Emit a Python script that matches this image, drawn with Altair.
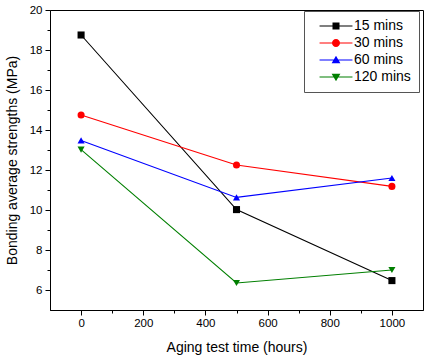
import altair as alt
import pandas as pd

hours = [0, 500, 1000]
series_names = ["15 mins", "30 mins", "60 mins", "120 mins"]
s15 = [18.75, 10.02, 6.47]
s30 = [14.75, 12.25, 11.18]
s60 = [13.48, 10.63, 11.60]
s120 = [13.02, 6.35, 7.00]
colors = ["#000000", "#ff0000", "#0000ff", "#007f00"]
shapes = ["square", "circle", "triangle-up", "triangle-down"]

# legend symbols: a short line with the marker on it (unit coords)
legend_paths = [
    "M-4.7,-0.16H4.7V0.16H-4.7Z M-1,-1H1V1H-1Z",
    "M-4.7,-0.16H4.7V0.16H-4.7Z M-1.15,0A1.15,1.15,0,1,1,1.15,0A1.15,1.15,0,1,1,-1.15,0Z",
    "M-4.7,-0.16H4.7V0.16H-4.7Z M0,-1.2L1.25,0.95H-1.25Z",
    "M-4.7,-0.16H4.7V0.16H-4.7Z M0,1.2L-1.25,-0.95H1.25Z",
]

x_ticks = [0, 100, 200, 300, 400, 500, 600, 700, 800, 900, 1000]
y_ticks = [6, 7, 8, 9, 10, 11, 12, 13, 14, 15, 16, 17, 18, 19, 20]

rows = []
for name, vals in zip(series_names, [s15, s30, s60, s120]):
    for h, v in zip(hours, vals):
        rows.append({"hours": h, "strength": v, "series": name})
df = pd.DataFrame(rows)

FONT = "Liberation Sans"

x_axis = alt.Axis(
    title="Aging test time (hours)",
    values=x_ticks,
    format="d",
    labelExpr="datum.value % 200 == 0 ? datum.label : ''",
    tickSize={"condition": {"test": "datum.value % 200 == 0", "value": 5}, "value": 3},
    grid=False,
    labelFontSize=11.5,
    labelPadding=2,
    titleFontSize=14,
    titleFontWeight="normal",
    titlePadding=12,
    labelFlush=False,
    labelOverlap=False,
)
y_axis = alt.Axis(
    title="Bonding average strengths (MPa)",
    values=y_ticks,
    format="d",
    labelExpr="datum.value % 2 == 0 ? datum.label : ''",
    tickSize={"condition": {"test": "datum.value % 2 == 0", "value": 5}, "value": 3},
    grid=False,
    labelFontSize=11.5,
    labelPadding=3,
    titleFontSize=14,
    titleFontWeight="normal",
    titlePadding=10,
    labelFlush=False,
    labelOverlap=False,
)

x_scale = alt.Scale(domain=[-100, 1100], nice=False, zero=False)
y_scale = alt.Scale(domain=[5, 20], nice=False, zero=False)
color_scale = alt.Scale(domain=series_names, range=colors)

leg = alt.Legend(
    title=None,
    orient="none",
    legendX=254,
    legendY=1,
    padding=8,
    symbolOffset=17,
    labelOffset=11,
    rowPadding=3,
    labelFontSize=14,
    labelFont=FONT,
    labelColor="black",
    strokeColor="#555555",
    fillColor="white",
    symbolSize=49,
    symbolStrokeWidth=0,
    symbolOpacity=1,
    labelLimit=300,
)

base = alt.Chart(df)

lines = base.mark_line(strokeWidth=1.1).encode(
    x=alt.X("hours:Q", scale=x_scale, axis=x_axis),
    y=alt.Y("strength:Q", scale=y_scale, axis=y_axis),
    color=alt.Color("series:N", scale=color_scale, legend=leg),
    detail="series:N",
)

layers = [lines]
for name, shp in zip(series_names, shapes):
    layers.append(
        base.transform_filter(alt.datum.series == name)
        .mark_point(shape=shp, filled=True, size=50, opacity=1)
        .encode(
            x=alt.X("hours:Q", scale=x_scale, axis=x_axis),
            y=alt.Y("strength:Q", scale=y_scale, axis=y_axis),
            color=alt.Color("series:N", scale=color_scale, legend=leg),
        )
    )

legend_layer = base.mark_point(filled=True, opacity=0, size=49).encode(
    x=alt.X("hours:Q", scale=x_scale, axis=x_axis),
    y=alt.Y("strength:Q", scale=y_scale, axis=y_axis),
    color=alt.Color("series:N", scale=color_scale, legend=leg),
    shape=alt.Shape("series:N", scale=alt.Scale(domain=series_names, range=legend_paths), legend=leg),
)
layers.append(legend_layer)

chart = (
    alt.layer(*layers)
    .properties(
        width=373,
        height=300,
        autosize=alt.AutoSizeParams(type="none"),
        padding={"left": 50, "top": 10, "right": 6, "bottom": 47},
    )
    .configure(font=FONT)
    .configure_view(stroke="black", strokeWidth=1)
    .configure_axis(
        domainColor="black",
        tickColor="black",
        labelColor="black",
        titleColor="black",
        labelFont=FONT,
        titleFont=FONT,
    )
)

chart.save("out.html", embed_options={"renderer": "svg", "actions": False})
